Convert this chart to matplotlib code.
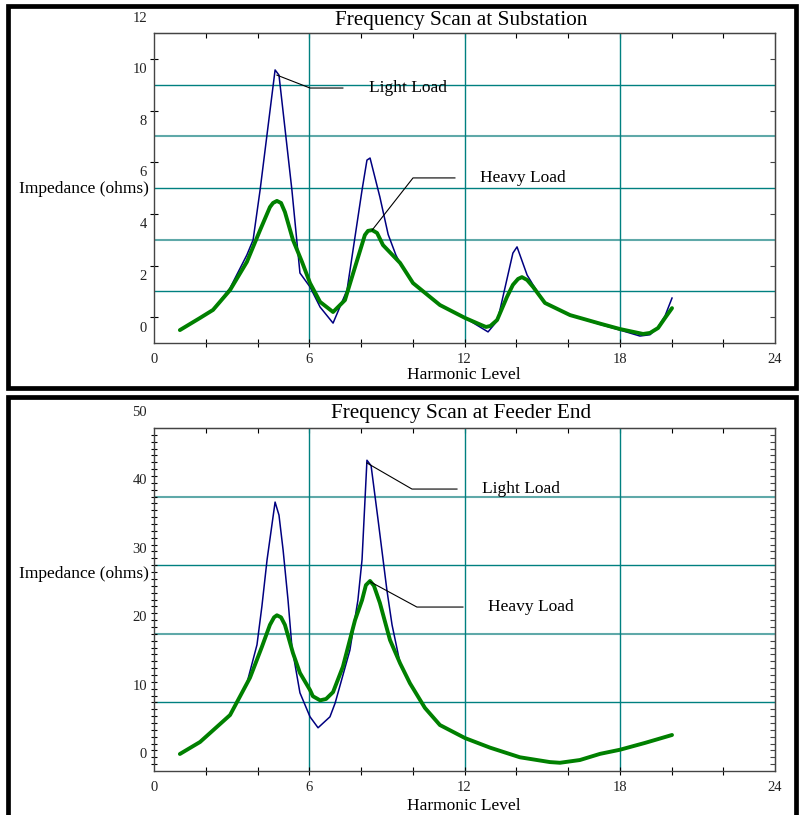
import matplotlib
matplotlib.use('Agg')
import matplotlib.pyplot as plt
from matplotlib import transforms
from matplotlib.patches import Rectangle

plt.rcParams['font.family'] = ['Liberation Serif', 'DejaVu Serif']

# ---------------- data ----------------
# Substation scan
sub_light_x = [1.00, 1.78, 2.28, 2.94, 3.59, 3.83, 4.10, 4.68, 4.83, 5.33, 5.64, 6.03, 6.42,
               6.92, 7.46, 8.04, 8.23, 8.35, 8.73, 9.05, 9.35, 9.51, 10.01, 11.05, 12.02,
               12.91, 13.26, 13.37, 13.87, 14.03, 14.42, 14.65, 15.11, 16.08, 17.24, 18.01,
               18.78, 19.17, 19.48, 19.75, 20.02]
sub_light_y = [0.50, 0.97, 1.28, 2.13, 3.41, 3.99, 5.92, 10.57, 10.37, 5.92, 2.71, 2.17, 1.39,
               0.77, 2.05, 5.92, 7.08, 7.16, 5.65, 4.20, 3.40, 3.10, 2.32, 1.47, 0.97,
               0.43, 0.85, 1.28, 3.48, 3.72, 2.63, 2.25, 1.55, 1.08, 0.72, 0.50,
               0.27, 0.32, 0.62, 1.05, 1.74]
sub_heavy_x = [1.00, 1.78, 2.28, 2.94, 3.59, 4.10, 4.48, 4.60, 4.75, 4.91, 5.06, 5.37, 5.72,
               6.03, 6.42, 6.92, 7.38, 7.77, 8.15, 8.27, 8.43, 8.62, 8.85, 9.51, 10.01,
               11.05, 12.02, 12.64, 12.83, 13.00, 13.26, 13.64, 13.87, 14.07, 14.22, 14.42,
               14.65, 15.11, 16.08, 17.24, 18.01, 18.90, 19.17, 19.48, 19.75, 20.02]
sub_heavy_y = [0.50, 0.97, 1.28, 2.05, 3.14, 4.37, 5.26, 5.42, 5.50, 5.42, 5.07, 3.99, 3.14,
               2.32, 1.59, 1.20, 1.66, 2.94, 4.18, 4.34, 4.37, 4.26, 3.79, 3.10, 2.32,
               1.47, 0.97, 0.70, 0.62, 0.66, 0.89, 1.78, 2.25, 2.48, 2.55, 2.44,
               2.17, 1.55, 1.08, 0.75, 0.54, 0.35, 0.39, 0.58, 0.97, 1.35]

# Feeder end scan
fe_light_x = [1.00, 1.78, 2.94, 3.59, 3.98, 4.17, 4.37, 4.68, 4.83, 4.99, 5.18, 5.33, 5.64,
              6.03, 6.34, 6.80, 7.00, 7.57, 7.88, 8.04, 8.23, 8.39, 8.66, 9.00, 9.20, 9.51,
              9.89, 10.47, 11.05, 12.02, 12.99, 14.14, 15.30, 15.69, 16.46, 17.24, 18.01,
              18.98, 20.02]
fe_light_y = [2.48, 4.23, 8.16, 12.8, 18.4, 24.0, 30.8, 39.2, 37.3, 32.2, 24.9, 18.1, 11.4,
              7.9, 6.3, 7.9, 9.9, 17.6, 24.9, 30.8, 45.3, 44.5, 36.6, 26.4, 21.3, 15.7,
              12.8, 9.2, 6.7, 4.8, 3.4, 2.0, 1.3, 1.2, 1.6, 2.5, 3.1,
              4.1, 5.25]
fe_heavy_x = [1.00, 1.78, 2.94, 3.71, 4.17, 4.48, 4.64, 4.75, 4.91, 5.06, 5.37, 5.64, 6.03,
              6.14, 6.42, 6.65, 6.92, 7.30, 7.77, 8.04, 8.19, 8.35, 8.50, 8.73, 9.12, 9.51,
              9.89, 10.47, 11.05, 12.02, 12.99, 14.14, 15.30, 15.69, 16.46, 17.24, 18.01,
              18.98, 20.02]
fe_heavy_y = [2.48, 4.23, 8.16, 13.6, 18.1, 21.3, 22.4, 22.7, 22.4, 21.3, 17.2, 14.3, 11.8,
              10.9, 10.3, 10.5, 11.5, 15.2, 22.0, 24.9, 27.1, 27.7, 27.0, 24.5, 19.1, 15.7,
              12.8, 9.2, 6.7, 4.8, 3.4, 2.0, 1.3, 1.2, 1.6, 2.5, 3.1,
              4.1, 5.25]

x_label_vals = [0, 6, 12, 18, 24]
x_tick_vals = [2, 4, 6, 8, 10, 12, 14, 16, 18, 20, 22]
x_grid_vals = [6, 12, 18]

sub_ymax = 12
sub_label_vals = [0, 2, 4, 6, 8, 10, 12]
sub_tick_vals = [1, 3, 5, 7, 9, 11]
sub_grid_vals = [2, 4, 6, 8, 10]
sub_grid_light = [4, 8]

fe_ymax = 50
fe_label_vals = [0, 10, 20, 30, 40, 50]
fe_tick_vals = list(range(1, 50))
fe_grid_vals = [10, 20, 30, 40]
fe_grid_light = [20, 40]

# annotation leaders: (start, elbow, end) and text x
sub_light_ann = [(4.75, 10.37), (6.03, 9.87), (7.30, 9.87), 8.31]
sub_heavy_ann = [(8.43, 4.37), (10.01, 6.39), (11.63, 6.39), 12.60]
fe_light_ann = [(8.23, 44.9), (9.97, 41.1), (11.71, 41.1), 12.68]
fe_heavy_ann = [(8.35, 27.6), (10.16, 23.9), (11.94, 23.9), 12.91]

# ---------------- figure ----------------
W, H = 799, 815
fig = plt.figure(figsize=(W / 100, H / 100), dpi=100)


def fx(px):
    return px / W


def fy(py):
    return 1 - py / H


TEAL = '#008080'
TEAL_LIGHT = '#5fa9a9'
NAVY = '#000080'
GREEN = '#008000'


def make_panel(top_px, bot_px, ymax, tick_vals, label_vals, grid_vals, grid_light,
               lx, ly, hx, hy, ann_l, ann_h, title, title_y, xlab_y, imp_y, yshift):
    ax = fig.add_axes([fx(154), fy(bot_px), fx(775) - fx(154), fy(top_px) - fy(bot_px)])
    ax.set_xlim(0, 24)
    ax.set_ylim(0, ymax)
    for s in ax.spines.values():
        s.set_color('#444444')
        s.set_linewidth(1.0)
    ax.set_xticks(x_tick_vals)
    ax.set_yticks(tick_vals)
    ax.tick_params(axis='both', which='major', direction='inout', length=6, width=0.8,
                   color='black', labelbottom=False, labelleft=False)
    top = ax.secondary_xaxis('top')
    top.set_xticks(x_tick_vals)
    top.set_xticklabels([])
    top.tick_params(direction='in', length=3.5, width=0.8, color='black')
    top.spines['top'].set_color('#444444')
    right = ax.secondary_yaxis('right')
    right.set_yticks(tick_vals)
    right.set_yticklabels([])
    right.tick_params(direction='in', length=3.5, width=0.8, color='#444444')
    right.spines['right'].set_color('#444444')

    for g in grid_vals:
        light = g in grid_light
        ax.axhline(g, color=TEAL_LIGHT if light else TEAL, lw=1.5 if light else 1.0, zorder=1)
    for g in x_grid_vals:
        ax.axvline(g, color=TEAL, lw=1.0, zorder=1)

    ax.plot(lx, ly, color=NAVY, lw=1.1, zorder=3, solid_joinstyle='round')
    ax.plot(hx, hy, color=GREEN, lw=2.8, zorder=4, solid_joinstyle='round', solid_capstyle='round')

    for ann, txt in ((ann_l, 'Light Load'), (ann_h, 'Heavy Load')):
        p0, p1, p2, tx = ann
        ax.plot([p0[0], p1[0], p2[0]], [p0[1], p1[1], p2[1]], color='black', lw=0.8, zorder=5)
        ax.text(tx, p2[1], txt, ha='left', va='center', fontsize=12.5, zorder=6)

    # y labels (shifted upward as in the original)
    yt = transforms.blended_transform_factory(ax.transAxes, ax.transData) + \
        transforms.ScaledTranslation(-0.07, yshift, fig.dpi_scale_trans)
    for v in label_vals:
        ax.text(0, v, str(v), transform=yt, ha='right', va='center', fontsize=10.5,
                color='#222222', clip_on=False)
    xt = transforms.blended_transform_factory(ax.transData, ax.transAxes) + \
        transforms.ScaledTranslation(0, -0.165, fig.dpi_scale_trans)
    for v in x_label_vals:
        ax.text(v, 0, str(v), transform=xt, ha='center', va='center', fontsize=10.5,
                color='#222222', clip_on=False)

    fig.text(fx(461), fy(title_y), title, ha='center', va='center', fontsize=15.3)
    fig.text(fx(464), fy(xlab_y), 'Harmonic Level', ha='center', va='center', fontsize=12.5)
    fig.text(fx(149), fy(imp_y), 'Impedance (ohms)', ha='right', va='center', fontsize=12.5)
    return ax


make_panel(33, 343, sub_ymax, sub_tick_vals, sub_label_vals, sub_grid_vals, sub_grid_light,
           sub_light_x, sub_light_y, sub_heavy_x, sub_heavy_y, sub_light_ann, sub_heavy_ann,
           'Frequency Scan at Substation', 21, 375, 189, 0.15)
ax2 = make_panel(428, 771, fe_ymax, fe_tick_vals, fe_label_vals, fe_grid_vals, fe_grid_light,
                 fe_light_x, fe_light_y, fe_heavy_x, fe_heavy_y, fe_light_ann, fe_heavy_ann,
                 'Frequency Scan at Feeder End', 414, 806, 574, 0.16)
ax2.tick_params(axis='y', length=5)

# panel frames
fig.patches.append(Rectangle((fx(8), fy(388)), fx(796) - fx(8), fy(5.8) - fy(388),
                             transform=fig.transFigure, fill=False, lw=3.4, ec='black'))
fig.patches.append(Rectangle((fx(8), fy(822)), fx(796) - fx(8), fy(397) - fy(822),
                             transform=fig.transFigure, fill=False, lw=3.4, ec='black',
                             clip_on=False))

fig.savefig('out.png', dpi=100)
